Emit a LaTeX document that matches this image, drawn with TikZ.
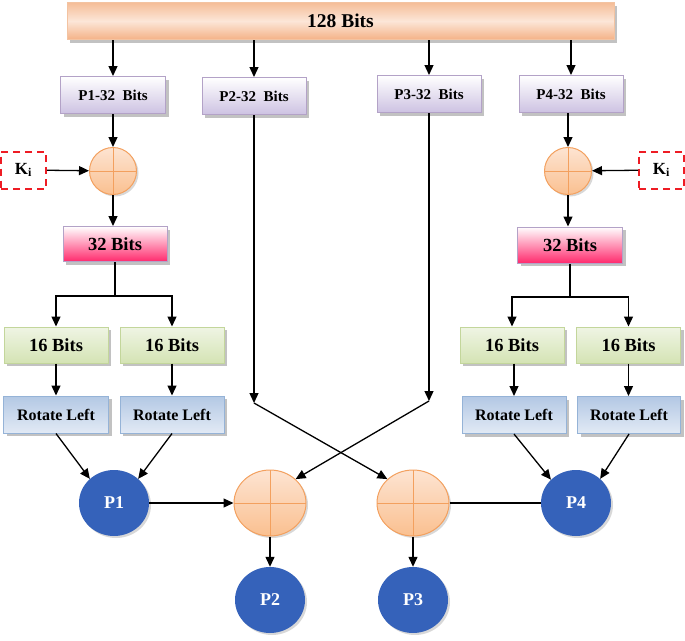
\documentclass[tikz,border=0pt]{standalone}
\usepackage{fontspec}
\setmainfont{Liberation Serif}
\usetikzlibrary{arrows.meta,shadows,shapes.geometric,calc}
\definecolor{orTop}{HTML}{F5BD97}
\definecolor{orMid}{HTML}{FCE6D8}
\definecolor{orBot}{HTML}{F4B287}
\definecolor{orBorder}{HTML}{F3C3A1}
\definecolor{lavBot}{HTML}{CDC2E2}
\definecolor{lavBorder}{HTML}{B3A2C7}
\definecolor{pinkBot}{HTML}{FF2A6D}
\definecolor{grTop}{HTML}{EFF5E4}
\definecolor{grBot}{HTML}{D4E3B4}
\definecolor{grBorder}{HTML}{C3D69B}
\definecolor{blTop}{HTML}{B3C8E4}
\definecolor{blBot}{HTML}{E2EAF5}
\definecolor{blBorder}{HTML}{95B3D7}
\definecolor{pBlue}{HTML}{3562BA}
\definecolor{xTop}{HTML}{FDE4D2}
\definecolor{xBot}{HTML}{FAC090}
\definecolor{xBorder}{HTML}{F3A05E}
\definecolor{kiRed}{HTML}{EE1C24}
\begin{document}
\begin{tikzpicture}[x=1pt,y=-1pt,
  shadowed/.style={drop shadow={shadow xshift=3pt,shadow yshift=-3pt,fill=black!40,opacity=0.6}},
  boxbase/.style={rectangle,inner sep=0pt,line width=1pt,shadowed},
  topbox/.style={boxbase,draw=orBorder,top color=orTop,bottom color=orBot,middle color=orMid,
     minimum width=547pt,minimum height=37pt,font=\bfseries\fontsize{19.5}{22}\selectfont},
  pbox/.style={boxbase,draw=lavBorder,top color=white,bottom color=lavBot,
     minimum width=105pt,minimum height=37pt,font=\bfseries\fontsize{15}{17}\selectfont},
  pinkbox/.style={boxbase,draw=lavBorder,top color=white,bottom color=pinkBot,
     minimum width=104pt,minimum height=35pt,font=\bfseries\fontsize{18.5}{21}\selectfont},
  greenbox/.style={boxbase,draw=grBorder,top color=grTop,bottom color=grBot,
     minimum width=104pt,minimum height=36pt,font=\bfseries\fontsize{18.5}{21}\selectfont},
  rotbox/.style={boxbase,draw=blBorder,top color=blTop,bottom color=blBot,
     minimum width=105pt,minimum height=37pt,font=\bfseries\fontsize{16}{18}\selectfont},
  kibox/.style={rectangle,inner sep=0pt,draw=kiRed,line width=2pt,dash pattern=on 7pt off 5pt,
     minimum width=45pt,minimum height=37pt,font=\bfseries\fontsize{17}{20}\selectfont},
  xorcross/.style={line width=1pt,draw=xBorder,top color=xTop,bottom color=xBot,inner sep=0pt,
     drop shadow={shadow xshift=2pt,shadow yshift=-2pt,fill=black!30,opacity=0.5},
     path picture={\draw[xBorder,line width=0.9pt]
       (path picture bounding box.north) -- (path picture bounding box.south)
       (path picture bounding box.west) -- (path picture bounding box.east);}},
  xorsmall/.style={xorcross,circle,minimum size=47pt},
  xorbig/.style={xorcross,ellipse,minimum width=72pt,minimum height=66pt},
  pnode/.style={ellipse,fill=pBlue,inner sep=0pt,minimum width=70pt,minimum height=66pt,
     text=white,font=\bfseries\fontsize{18}{20}\selectfont,
     drop shadow={shadow xshift=2pt,shadow yshift=-2pt,fill=black!30,opacity=0.5}},
  arr/.style={line width=1.3pt,-{Triangle[length=10pt,width=9pt]}},
  ln/.style={line width=1.3pt}
]
\useasboundingbox (0,0) rectangle (685,640);

% top
\node[topbox] (top) at (340.5,21) {128 Bits};
\node[pbox] (p1box) at (113,95) {P1-32\ \ Bits};
\node[pbox,minimum width=104pt] (p2box) at (254,96) {P2-32\ \ Bits};
\node[pbox,minimum width=104pt] (p3box) at (429,94) {P3-32\ \ Bits};
\node[pbox,minimum width=104pt] (p4box) at (571,94) {P4-32\ \ Bits};

\draw[arr] (p1box.north |- top.south) -- (p1box.north);
\draw[arr] (p2box.north |- top.south) -- (p2box.north);
\draw[arr] (p3box.north |- top.south) -- (p3box.north);
\draw[arr] (p4box.north |- top.south) -- (p4box.north);

% key XORs
\node[xorsmall] (xorL) at (113,171) {};
\node[xorsmall] (xorR) at (568,171) {};
\node[kibox] (kiL) at (23.5,170) {K\textsubscript{i}};
\node[kibox] (kiR) at (661.5,170) {K\textsubscript{i}};
\draw[arr] (p1box) -- (xorL);
\draw[arr] (p4box.south -| xorR) -- (xorR);
\draw[arr] (kiL) -- (xorL);
\draw[arr] (kiR) -- (xorR);

% 32 bits
\node[pinkbox] (b32L) at (115,244) {32 Bits};
\node[pinkbox,minimum width=105pt,minimum height=36pt] (b32R) at (570,245) {32 Bits};
\draw[arr] (xorL) -- (b32L.north -| xorL);
\draw[arr] (xorR) -- (b32R.north -| xorR);

% 16 bits
\node[greenbox] (b16a) at (56,345) {16 Bits};
\node[greenbox] (b16b) at (172,345) {16 Bits};
\node[greenbox] (b16c) at (512,345) {16 Bits};
\node[greenbox] (b16d) at (628.5,345) {16 Bits};
\coordinate (sL) at (b32L.south |- 0,296);
\coordinate (sR) at (b32R.south |- 0,297);
\draw[ln] (b32L.south) -- (sL);
\draw[ln] (b32R.south) -- (sR);
\draw[arr] (sL) -| (b16a.north);
\draw[arr] (sL) -| (b16b.north);
\draw[arr] (sR) -| (b16c.north);
\draw[arr] (sR) -| (b16d.north);

% rotate
\node[rotbox] (rotA) at (56,414.5) {Rotate Left};
\node[rotbox,minimum width=104pt] (rotB) at (172,414.5) {Rotate Left};
\node[rotbox,minimum width=104pt] (rotC) at (514,415) {Rotate Left};
\node[rotbox,minimum width=103pt] (rotD) at (629,415) {Rotate Left};
\draw[arr] (b16a) -- (rotA);
\draw[arr] (b16b) -- (rotB);
\draw[arr] (b16c.south -| rotC) -- (rotC);
\draw[arr] (b16d) -- (rotD.north -| b16d);

% bottom nodes
\node[pnode] (P1) at (114,503) {P1};
\node[pnode] (P4) at (576,503) {P4};
\node[pnode] (P2) at (270,600) {P2};
\node[pnode] (P3) at (413,600) {P3};
\node[xorbig] (x2) at (270,503) {};
\node[xorbig] (x3) at (413,503) {};

\draw[arr] (rotA.south) -- (P1.135);
\draw[arr] (rotB.south) -- (P1.45);
\draw[arr] (rotC.south) -- (P4.137);
\draw[arr] (rotD.south) -- (P4.45);

% crossing lines
\coordinate (c2) at (p2box.south |- 0,403);
\coordinate (c3) at (p3box.south |- 0,401);
\draw[arr] (p2box) -- (c2);
\draw[arr] (p3box) -- (c3);
\draw[arr] (c2) -- (x3.137);
\draw[arr] (c3) -- (x2.43);

\draw[arr] (P1) -- (x2);
\draw[ln] (x3) -- (P4);
\draw[arr] (x2) -- (P2);
\draw[arr] (x3) -- (P3);
\end{tikzpicture}
\end{document}
